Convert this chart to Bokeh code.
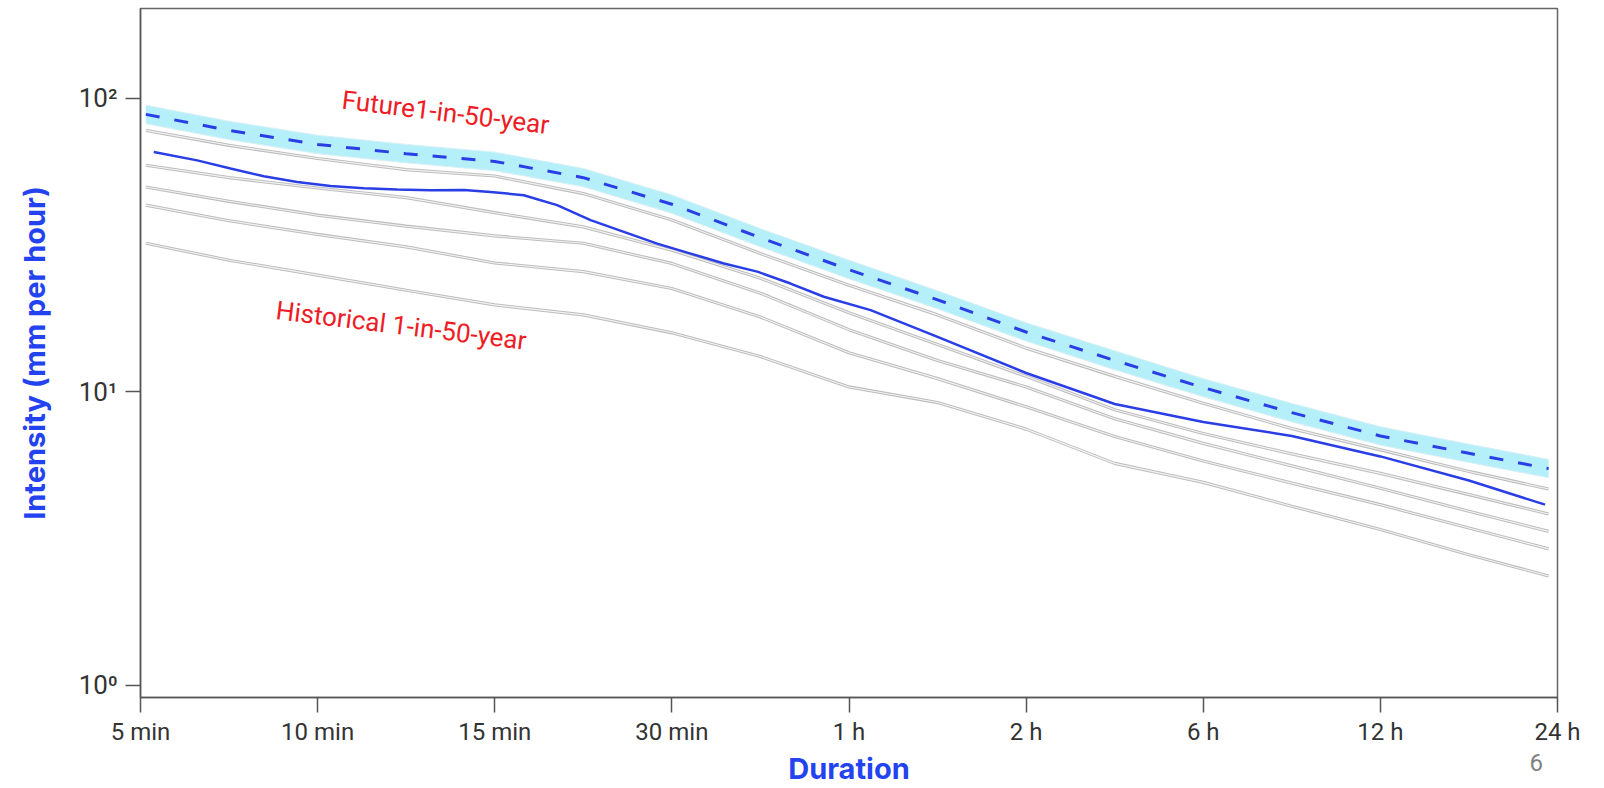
import math
from bokeh.plotting import figure
from bokeh.models import FixedTicker, Label, Range1d, LinearAxis
from bokeh.embed import file_html
from bokeh.resources import INLINE

# ---- data -----------------------------------------------------------------
x_labels = ["5 min", "10 min", "15 min", "30 min", "1 h", "2 h", "6 h", "12 h", "24 h"]
x_ticks = [0, 1, 2, 3, 4, 5, 6, 7, 8]

# duration index positions where the curves were read
x_pos = [0.03, 0.5, 1, 1.5, 2, 2.5, 3, 3.5, 4, 4.5, 5, 5.5, 6, 6.5, 7, 7.5, 7.95]

future_mid = [88.2, 77.8, 69.7, 64.8, 61.0, 53.7, 43.6, 33.5, 26.1, 20.6, 16.0, 12.8, 10.35, 8.5, 7.08, 6.18, 5.48]
future_upper = [94.8, 83.6, 74.9, 69.7, 65.6, 57.7, 46.9, 36.0, 28.1, 22.1, 17.2, 13.8, 11.1, 9.14, 7.61, 6.64, 5.89]
future_lower = [82.0, 72.4, 64.8, 60.3, 56.7, 50.0, 40.6, 31.2, 24.3, 19.2, 14.9, 11.9, 9.63, 7.91, 6.59, 5.75, 5.10]

hist_x = [0.075, 0.32, 0.508, 0.696, 0.885, 1.073, 1.261, 1.449, 1.637, 1.826, 1.976, 2.164,
          2.352, 2.541, 2.729, 2.917, 3.106, 3.294, 3.482, 3.670, 3.858, 4.122, 4.5, 5, 5.5,
          6, 6.5, 7, 7.5, 7.93]
historical = [65.7, 61.5, 57.7, 54.3, 51.9, 50.3, 49.4, 48.9, 48.6, 48.7, 48.0, 46.8,
              43.3, 38.5, 35.1, 32.0, 29.6, 27.4, 25.7, 23.4, 21.1, 19.0, 15.4, 11.6, 9.1,
              7.9, 7.08, 6.03, 4.99, 4.13]

member_1 = [77.8, 69.2, 62.4, 57.2, 54.4, 47.4, 38.5, 29.6, 23.1, 18.3, 14.1, 11.3, 9.15, 7.5, 6.35, 5.36, 4.67]
member_2 = [59.2, 53.7, 49.5, 45.9, 40.8, 36.5, 30.4, 24.4, 18.6, 14.5, 11.3, 8.7, 7.22, 6.15, 5.28, 4.47, 3.84]
member_3 = [49.9, 44.6, 40.0, 36.7, 34.0, 32.1, 27.4, 21.7, 16.3, 12.8, 10.4, 8.1, 6.68, 5.6, 4.7, 3.92, 3.35]
member_4 = [43.3, 38.3, 34.4, 31.2, 27.5, 25.7, 22.5, 18.0, 13.6, 11.1, 8.9, 7.05, 5.82, 4.89, 4.13, 3.44, 2.92]
member_5 = [32.1, 28.1, 25.0, 22.2, 19.8, 18.3, 15.9, 13.2, 10.4, 9.2, 7.47, 5.71, 4.92, 4.08, 3.40, 2.79, 2.36]
members = [member_1, member_2, member_3, member_4, member_5]

y_ticks = [1, 10, 100]
y_labels = ["10\u2070", "10\u00b9", "10\u00b2"]

future_text = "Future1-in-50-year"
historical_text = "Historical 1-in-50-year"
future_text_pos = (1.138, 99.0)
historical_text_pos = (0.766, 19.0)
page_number = "6"
page_number_x = 7.88

# ---- styles ---------------------------------------------------------------
BLUE = "#2a3ee6"
LABEL_BLUE = "#2343f0"
RED = "#ee1c25"
BAND = "#b5effa"

p = figure(width=1604, height=788, y_axis_type="log",
           x_range=Range1d(0, 8), y_range=Range1d(0.910, 202.4),
           output_backend="svg", toolbar_location=None,
           min_border_left=140, min_border_right=47,
           min_border_top=8, min_border_bottom=90)
p.background_fill_color = "white"
p.border_fill_color = "white"
p.outline_line_color = "#666666"
p.outline_line_width = 1.5
p.xgrid.visible = False
p.ygrid.visible = False

p.varea(x=x_pos, y1=future_lower, y2=future_upper, fill_color=BAND, fill_alpha=1.0)
p.line(x_pos, future_upper, line_color="#d8f0f4", line_width=1)
p.line(x_pos, future_lower, line_color="#d8f0f4", line_width=1)

for m in members:
    p.line(x_pos, m, line_color="#bdbdbd", line_width=3.2)
    p.line(x_pos, m, line_color="#f3f3f3", line_width=1.1)

p.line(hist_x, historical, line_color=BLUE, line_width=2.5)
p.line(x_pos, future_mid, line_color=BLUE, line_width=3, line_dash="14 15")

ang = -7 * math.pi / 180
p.add_layout(Label(x=future_text_pos[0], y=future_text_pos[1], text=future_text,
                   angle=ang, text_color=RED, text_font="Roboto",
                   text_font_size="26px", text_align="left", text_baseline="alphabetic"))
p.add_layout(Label(x=historical_text_pos[0], y=historical_text_pos[1], text=historical_text,
                   angle=ang, text_color=RED, text_font="Roboto",
                   text_font_size="26px", text_align="left", text_baseline="alphabetic"))

# axes
xax = p.xaxis[0]
yax = p.yaxis[0]
xax.ticker = FixedTicker(ticks=x_ticks)
xax.major_label_overrides = {t: l for t, l in zip(x_ticks, x_labels)}
yax.ticker = FixedTicker(ticks=y_ticks)
yax.major_label_overrides = {t: l for t, l in zip(y_ticks, y_labels)}

for ax in (xax, yax):
    ax.axis_line_color = "#555555"
    ax.axis_line_width = 1.5
    ax.major_tick_line_color = "#555555"
    ax.major_tick_line_width = 1.5
    ax.major_tick_out = 15
    ax.major_tick_in = 0
    ax.minor_tick_line_color = None
    ax.major_label_text_font = "Roboto"
    ax.major_label_text_color = "#333333"
    ax.axis_label_text_font = "Inter"
    ax.axis_label_text_font_style = "bold"
    ax.axis_label_text_font_size = "29px"
    ax.axis_label_text_color = LABEL_BLUE

xax.major_label_text_font_size = "24px"
xax.major_label_standoff = 5
yax.major_label_text_font_size = "26px"
yax.axis_label = "Intensity (mm per hour)"
yax.major_label_standoff = 8
yax.axis_label_standoff = 24

# second bottom axis: carries the page number and the "Duration" title
extra = LinearAxis(ticker=FixedTicker(ticks=[page_number_x]),
                   major_label_overrides={page_number_x: page_number})
extra.axis_line_color = None
extra.major_tick_line_color = None
extra.minor_tick_line_color = None
extra.major_tick_out = 0
extra.major_tick_in = 0
extra.major_label_text_font = "Roboto"
extra.major_label_text_font_size = "24px"
extra.major_label_text_color = "#808080"
extra.major_label_standoff = 5
extra.axis_label = "Duration"
extra.axis_label_standoff = -23
extra.axis_label_text_font = "Inter"
extra.axis_label_text_font_style = "bold"
extra.axis_label_text_font_size = "29px"
extra.axis_label_text_color = LABEL_BLUE
p.add_layout(extra, "below")

open("out.html", "w").write(file_html(p, INLINE))
